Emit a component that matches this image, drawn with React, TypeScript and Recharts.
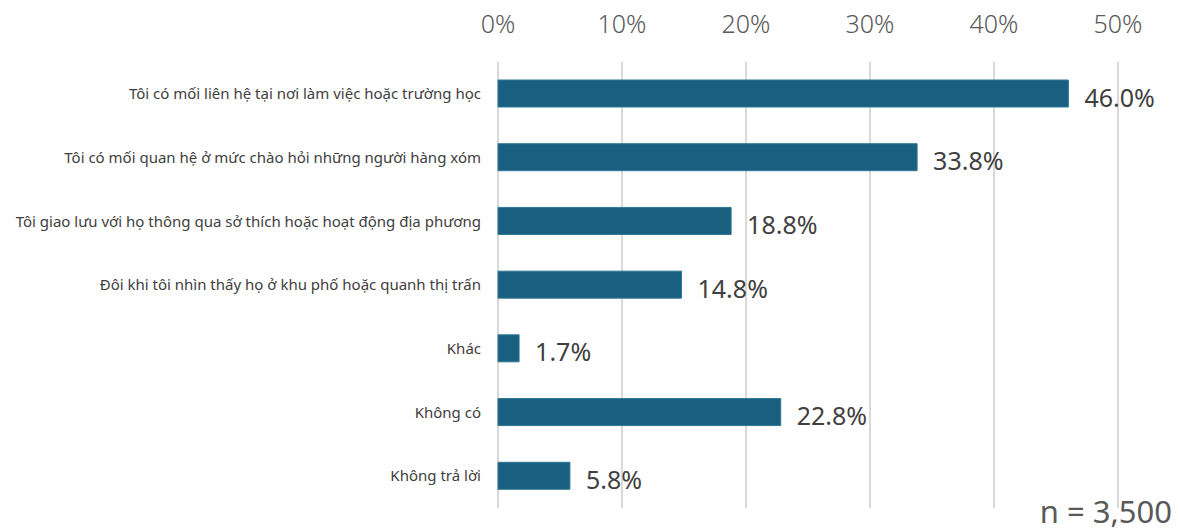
import { BarChart, Bar, XAxis, YAxis, CartesianGrid, LabelList } from 'recharts';

const categories = [
  'Tôi có mối liên hệ tại nơi làm việc hoặc trường học',
  'Tôi có mối quan hệ ở mức chào hỏi những người hàng xóm',
  'Tôi giao lưu với họ thông qua sở thích hoặc hoạt động địa phương',
  'Đôi khi tôi nhìn thấy họ ở khu phố hoặc quanh thị trấn',
  'Khác',
  'Không có',
  'Không trả lời',
];

const values = [46.0, 33.8, 18.8, 14.8, 1.7, 22.8, 5.8];

const xTicks = [0, 10, 20, 30, 40, 50];

const sampleNote = 'n = 3,500';

const FONT = '"Noto Sans", "Open Sans", sans-serif';

export default function App() {
  const data = categories.map((name, i) => ({ name, value: values[i] }));

  // nhãn giá trị bên phải thanh
  const renderValue = (props: any) => {
    const { x, y, width, height, value } = props;
    return (
      <text
        x={x + width + 16}
        y={y + height / 2 + 13}
        fill="#404040"
        fontSize={25}
        fontFamily={FONT}
        textAnchor="start"
      >
        {value.toFixed(1)}%
      </text>
    );
  };

  return (
    <div style={{ position: 'absolute', left: 0, top: 0, width: 1181, height: 530, background: '#fff' }}>
      <BarChart
        width={1181}
        height={530}
        data={data}
        layout="vertical"
        margin={{ top: 0, right: 63, bottom: 22, left: 0 }}
        barSize={27}
      >
        <CartesianGrid horizontal={false} stroke="#d9d9d9" strokeWidth={2} />
        <XAxis
          type="number"
          orientation="top"
          domain={[0, 50]}
          ticks={xTicks}
          height={62}
          axisLine={false}
          tickLine={false}
          tickSize={0}
          tickMargin={29}
          tickFormatter={(v: number) => `${v}%`}
          tick={{ fontSize: 25, fill: '#595959', fontFamily: FONT, fontWeight: 300 }}
        />
        <YAxis
          type="category"
          dataKey="name"
          width={498}
          axisLine={false}
          tickLine={false}
          tickSize={0}
          tickMargin={17}
          interval={0}
          tick={{ fontSize: 15, fill: '#404040', fontFamily: FONT }}
        />
        <Bar dataKey="value" fill="#185f80" stroke="#2f7896" strokeWidth={1} isAnimationActive={false}>
          <LabelList dataKey="value" content={renderValue} />
        </Bar>
      </BarChart>
      <div
        style={{
          position: 'absolute',
          right: 9,
          top: 494,
          fontSize: 31,
          lineHeight: '34px',
          color: '#595959',
          fontFamily: FONT,
        }}
      >
        {sampleNote}
      </div>
    </div>
  );
}
